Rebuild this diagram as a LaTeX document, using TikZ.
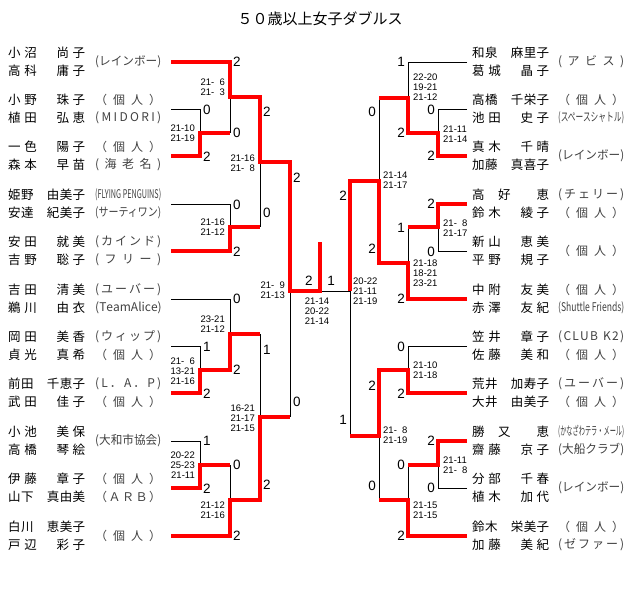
\documentclass[tikz,border=0pt]{standalone}
\usepackage{fontspec}
\usepackage{graphicx}
\setmainfont{Liberation Sans}
\newfontfamily\jpfont{Noto Sans CJK JP}
\newfontfamily\numfont{Liberation Sans}

\let\spreadstop\relax
\def\spreadloop#1{#1\futurelet\spreadnext\spreadcheck}
\def\spreadcheck{\ifx\spreadnext\spreadstop
    \expandafter\spreadend
  \else
    \hfill\expandafter\spreadloop
  \fi}
\def\spreadend\spreadstop{}
\newcommand\spreadtext[2]{\makebox[#1][s]{\spreadloop#2\spreadstop}}
\newcommand\fitbox[2]{\sbox0{#2}\ifdim\wd0>#1\relax\resizebox{#1}{\height}{#2}\else\spreadtext{#1}{#2}\fi}
\newcommand\pname[1]{\spreadtext{77pt}{#1}}
\newcommand\pclub[1]{\fitbox{66pt}{#1}}
\newcommand\fsp{\hphantom{0}}

\tikzset{
    win/.style={red, line width=3.3pt},
    lose/.style={black, line width=0.8pt},
    player/.style={font=\jpfont\fontsize{12.5}{14}\selectfont, anchor=west, inner sep=0pt},
    club/.style={font=\jpfont\fontsize{12}{14}\selectfont, text=black!75, anchor=west, inner sep=0pt},
    sets/.style={font=\numfont\fontsize{13.5}{14}\selectfont, inner sep=0pt},
    games/.style={font=\numfont\fontsize{9.5}{10}\selectfont, inner sep=0pt},
}

\begin{document}
\begin{tikzpicture}[x=1pt, y=-1pt]
    \useasboundingbox (0,0) rectangle (640,593);
    \node[font=\jpfont\fontsize{15}{16}\selectfont] (title) at (320,19) {５０歳以上女子ダブルス};

    \draw[lose] (171,109) -- (200,109) -- (200,133);
    \draw[lose] (230,133) -- (230,97);
    \draw[lose] (171,204) -- (230,204) -- (230,227);
    \draw[lose] (260,227) -- (260,162);
    \draw[lose] (171,299) -- (230,299) -- (230,334);
    \draw[lose] (171,346) -- (200,346) -- (200,370);
    \draw[lose] (260,334) -- (260,417);
    \draw[lose] (171,441) -- (200,441) -- (200,465);
    \draw[lose] (230,465) -- (230,500);
    \draw[lose] (290,417) -- (290,291);
    \draw[lose] (467,62) -- (408,62) -- (408,98);
    \draw[lose] (467,109) -- (438,109) -- (438,133);
    \draw[lose] (379,98) -- (379,181);
    \draw[lose] (408,227) -- (408,263);
    \draw[lose] (467,251) -- (438,251) -- (438,227);
    \draw[lose] (350,291) -- (320,291);
    \draw[lose] (467,346) -- (408,346) -- (408,370);
    \draw[lose] (350,436) -- (350,291);
    \draw[lose] (408,465) -- (408,500);
    \draw[lose] (467,488) -- (438,488) -- (438,465);
    \draw[lose] (379,500) -- (379,436);

    \draw[win] (171,62) -- (230,62) -- (230,97) -- (260,97) -- (260,162) -- (290,162) -- (290,291) -- (320,291) -- (320,242);
    \draw[win] (171,156) -- (200,156) -- (200,133) -- (230,133);
    \draw[win] (171,251) -- (230,251) -- (230,227) -- (260,227);
    \draw[win] (171,393) -- (200,393) -- (200,370) -- (230,370) -- (230,334) -- (260,334);
    \draw[win] (171,488) -- (200,488) -- (200,465) -- (230,465);
    \draw[win] (171,536) -- (230,536) -- (230,500) -- (260,500) -- (260,417) -- (290,417);
    \draw[win] (467,156) -- (438,156) -- (438,133) -- (408,133) -- (408,98) -- (379,98);
    \draw[win] (467,204) -- (438,204) -- (438,227) -- (408,227);
    \draw[win] (467,299) -- (408,299) -- (408,263) -- (379,263) -- (379,181) -- (350,181) -- (350,291);
    \draw[win] (467,393) -- (408,393) -- (408,370) -- (379,370) -- (379,436) -- (350,436);
    \draw[win] (467,441) -- (438,441) -- (438,465) -- (408,465);
    \draw[win] (467,536) -- (408,536) -- (408,500) -- (379,500);

    \node[player] (L1a) at (8,53) {\pname{小沼　尚子}};
    \node[player] (L1b) at (8,71) {\pname{高科　庸子}};
    \node[club] (L1c) at (95,62) {\pclub{(レインボー)}};
    \node[player] (L2a) at (8,100) {\pname{小野　珠子}};
    \node[player] (L2b) at (8,118) {\pname{植田　弘恵}};
    \node[club] (L2c) at (95,100) {\pclub{（個人）}};
    \node[club] (L2d) at (95,118) {\pclub{(MIDORI)}};
    \node[player] (L3a) at (8,147) {\pname{一色　陽子}};
    \node[player] (L3b) at (8,165) {\pname{森本　早苗}};
    \node[club] (L3c) at (95,147) {\pclub{（個人）}};
    \node[club] (L3d) at (95,165) {\pclub{(海老名)}};
    \node[player] (L4a) at (8,195) {\pname{姫野　由美子}};
    \node[player] (L4b) at (8,213) {\pname{安達　紀美子}};
    \node[club] (L4c) at (95,195) {\pclub{(FLYING PENGUINS)}};
    \node[club] (L4d) at (95,213) {\pclub{(サーティワン)}};
    \node[player] (L5a) at (8,242) {\pname{安田　就美}};
    \node[player] (L5b) at (8,260) {\pname{吉野　聡子}};
    \node[club] (L5c) at (95,242) {\pclub{(カインド)}};
    \node[club] (L5d) at (95,260) {\pclub{(フリー)}};
    \node[player] (L6a) at (8,290) {\pname{吉田　清美}};
    \node[player] (L6b) at (8,308) {\pname{鵜川　由衣}};
    \node[club] (L6c) at (95,290) {\pclub{(ユーバー)}};
    \node[club] (L6d) at (95,308) {\pclub{(TeamAlice)}};
    \node[player] (L7a) at (8,337) {\pname{岡田　美香}};
    \node[player] (L7b) at (8,355) {\pname{貞光　真希}};
    \node[club] (L7c) at (95,337) {\pclub{(ウィップ)}};
    \node[club] (L7d) at (95,355) {\pclub{（個人）}};
    \node[player] (L8a) at (8,384) {\pname{前田　千恵子}};
    \node[player] (L8b) at (8,402) {\pname{武田　佳子}};
    \node[club] (L8c) at (95,384) {\pclub{(L．A．P)}};
    \node[club] (L8d) at (95,402) {\pclub{（個人）}};
    \node[player] (L9a) at (8,432) {\pname{小池　美保}};
    \node[player] (L9b) at (8,450) {\pname{高橋　琴絵}};
    \node[club] (L9c) at (95,441) {\pclub{(大和市協会)}};
    \node[player] (L10a) at (8,479) {\pname{伊藤　章子}};
    \node[player] (L10b) at (8,497) {\pname{山下　真由美}};
    \node[club] (L10c) at (95,479) {\pclub{（個人）}};
    \node[club] (L10d) at (95,497) {\pclub{（ＡＲＢ）}};
    \node[player] (L11a) at (8,527) {\pname{白川　恵美子}};
    \node[player] (L11b) at (8,545) {\pname{戸辺　彩子}};
    \node[club] (L11c) at (95,536) {\pclub{（個人）}};

    \node[player] (R1a) at (472,53) {\pname{和泉　麻里子}};
    \node[player] (R1b) at (472,71) {\pname{葛城　晶子}};
    \node[club] (R1c) at (558,62) {\pclub{(アビス)}};
    \node[player] (R2a) at (472,100) {\pname{高橋　千栄子}};
    \node[player] (R2b) at (472,118) {\pname{池田　史子}};
    \node[club] (R2c) at (558,100) {\pclub{（個人）}};
    \node[club] (R2d) at (558,118) {\pclub{(スペースシャトル)}};
    \node[player] (R3a) at (472,147) {\pname{真木　千晴}};
    \node[player] (R3b) at (472,165) {\pname{加藤　真喜子}};
    \node[club] (R3c) at (558,156) {\pclub{(レインボー)}};
    \node[player] (R4a) at (472,195) {\pname{高　好　　恵}};
    \node[player] (R4b) at (472,213) {\pname{鈴木　綾子}};
    \node[club] (R4c) at (558,195) {\pclub{(チェリー)}};
    \node[club] (R4d) at (558,213) {\pclub{（個人）}};
    \node[player] (R5a) at (472,242) {\pname{新山　恵美}};
    \node[player] (R5b) at (472,260) {\pname{平野　規子}};
    \node[club] (R5c) at (558,251) {\pclub{（個人）}};
    \node[player] (R6a) at (472,290) {\pname{中附　友美}};
    \node[player] (R6b) at (472,308) {\pname{赤澤　友紀}};
    \node[club] (R6c) at (558,290) {\pclub{（個人）}};
    \node[club] (R6d) at (558,308) {\pclub{(Shuttle Friends)}};
    \node[player] (R7a) at (472,337) {\pname{笠井　章子}};
    \node[player] (R7b) at (472,355) {\pname{佐藤　美和}};
    \node[club] (R7c) at (558,337) {\pclub{(CLUB~K2)}};
    \node[club] (R7d) at (558,355) {\pclub{（個人）}};
    \node[player] (R8a) at (472,384) {\pname{荒井　加寿子}};
    \node[player] (R8b) at (472,402) {\pname{大井　由美子}};
    \node[club] (R8c) at (558,384) {\pclub{(ユーバー)}};
    \node[club] (R8d) at (558,402) {\pclub{（個人）}};
    \node[player] (R9a) at (472,432) {\pname{勝　又　　恵}};
    \node[player] (R9b) at (472,450) {\pname{齋藤　京子}};
    \node[club] (R9c) at (558,432) {\pclub{(かなざわテラ・メール)}};
    \node[club] (R9d) at (558,450) {\pclub{(大船クラブ)}};
    \node[player] (R10a) at (472,479) {\pname{分部　千春}};
    \node[player] (R10b) at (472,497) {\pname{植木　加代}};
    \node[club] (R10c) at (558,488) {\pclub{(レインボー)}};
    \node[player] (R11a) at (472,527) {\pname{鈴木　栄美子}};
    \node[player] (R11b) at (472,545) {\pname{加藤　美紀}};
    \node[club] (R11c) at (558,527) {\pclub{（個人）}};
    \node[club] (R11d) at (558,545) {\pclub{(ゼファー)}};

    \node[sets, anchor=west] (sA1) at (203,110) {0};
    \node[sets, anchor=west] (sA2) at (203,157) {2};
    \node[sets, anchor=west] (sB1) at (233,62) {2};
    \node[sets, anchor=west] (sB2) at (233,133) {0};
    \node[sets, anchor=west] (sC1) at (233,205) {0};
    \node[sets, anchor=west] (sC2) at (233,252) {2};
    \node[sets, anchor=west] (sD1) at (263,112) {2};
    \node[sets, anchor=west] (sD2) at (263,213) {0};
    \node[sets, anchor=west] (sE1) at (203,347) {1};
    \node[sets, anchor=west] (sE2) at (203,394) {2};
    \node[sets, anchor=west] (sF1) at (233,299) {0};
    \node[sets, anchor=west] (sF2) at (233,370) {2};
    \node[sets, anchor=west] (sG1) at (203,441) {1};
    \node[sets, anchor=west] (sG2) at (203,489) {2};
    \node[sets, anchor=west] (sH1) at (233,465) {0};
    \node[sets, anchor=west] (sH2) at (233,536) {2};
    \node[sets, anchor=west] (sI1) at (263,350) {1};
    \node[sets, anchor=west] (sI2) at (263,485) {2};
    \node[sets, anchor=west] (sJ1) at (293,178) {2};
    \node[sets, anchor=west] (sJ2) at (293,402) {0};
    \node[sets] (sK1) at (309,281) {2};
    \node[sets] (sK2) at (331,281) {1};
    \node[sets, anchor=east] (sa1) at (435,110) {0};
    \node[sets, anchor=east] (sa2) at (435,156) {2};
    \node[sets, anchor=east] (sb1) at (405,62) {1};
    \node[sets, anchor=east] (sb2) at (405,133) {2};
    \node[sets, anchor=east] (sc1) at (435,204) {2};
    \node[sets, anchor=east] (sc2) at (435,252) {0};
    \node[sets, anchor=east] (sd1) at (405,228) {1};
    \node[sets, anchor=east] (sd2) at (405,299) {2};
    \node[sets, anchor=east] (se1) at (376,112) {0};
    \node[sets, anchor=east] (se2) at (376,249) {2};
    \node[sets, anchor=east] (sf1) at (405,347) {0};
    \node[sets, anchor=east] (sf2) at (405,394) {2};
    \node[sets, anchor=east] (sg1) at (435,441) {2};
    \node[sets, anchor=east] (sg2) at (435,488) {0};
    \node[sets, anchor=east] (sh1) at (405,465) {0};
    \node[sets, anchor=east] (sh2) at (405,536) {2};
    \node[sets, anchor=east] (si1) at (376,386) {2};
    \node[sets, anchor=east] (si2) at (376,486) {0};
    \node[sets, anchor=east] (sj1) at (347,196) {2};
    \node[sets, anchor=east] (sj2) at (347,420) {1};

    \node[games, anchor=east, align=right] (gA) at (195,133) {21-10\\21-19};
    \node[games, anchor=east, align=right] (gB) at (225,87) {21-\fsp6\\21-\fsp3};
    \node[games, anchor=east, align=right] (gC) at (225,227) {21-16\\21-12};
    \node[games, anchor=east, align=right] (gD) at (255,163) {21-16\\21-\fsp8};
    \node[games, anchor=east, align=right] (gE) at (195,371) {21-\fsp6\\13-21\\21-16};
    \node[games, anchor=east, align=right] (gF) at (225,324) {23-21\\21-12};
    \node[games, anchor=east, align=right] (gG) at (195,465) {20-22\\25-23\\21-11};
    \node[games, anchor=east, align=right] (gH) at (225,510) {21-12\\21-16};
    \node[games, anchor=east, align=right] (gI) at (255,418) {16-21\\21-17\\21-15};
    \node[games, anchor=east, align=right] (gJ) at (285,290) {21-\fsp9\\21-13};
    \node[games, align=left] (gK) at (317,311) {21-14\\20-22\\21-14};
    \node[games, anchor=west, align=left] (ga) at (443,134) {21-11\\21-14};
    \node[games, anchor=west, align=left] (gb) at (413,87) {22-20\\19-21\\21-12};
    \node[games, anchor=west, align=left] (gc) at (443,228) {21-\fsp8\\21-17};
    \node[games, anchor=west, align=left] (gd) at (413,273) {21-18\\18-21\\23-21};
    \node[games, anchor=west, align=left] (ge) at (383,180) {21-14\\21-17};
    \node[games, anchor=west, align=left] (gf) at (413,370) {21-10\\21-18};
    \node[games, anchor=west, align=left] (gg) at (443,465) {21-11\\21-\fsp8};
    \node[games, anchor=west, align=left] (gh) at (413,510) {21-15\\21-15};
    \node[games, anchor=west, align=left] (gi) at (383,435) {21-\fsp8\\21-19};
    \node[games, anchor=west, align=left] (gj) at (353,291) {20-22\\21-11\\21-19};
\end{tikzpicture}
\end{document}
